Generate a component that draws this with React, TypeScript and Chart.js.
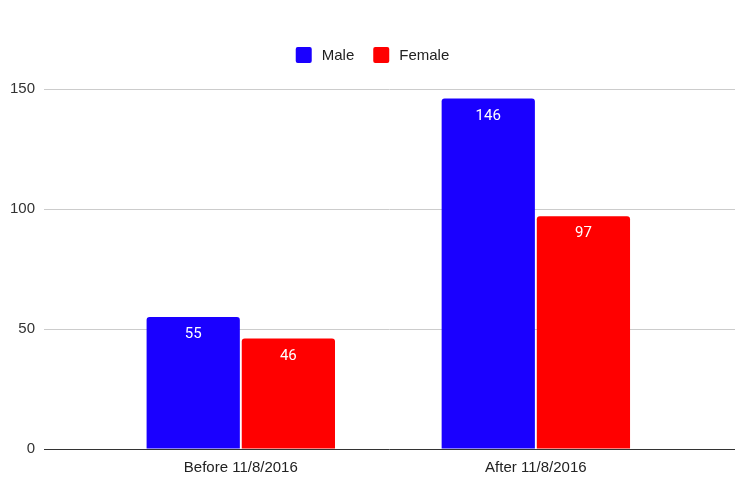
import React, { useEffect, useRef } from "react";
import { Chart, registerables } from "chart.js";

Chart.register(...registerables);

const categories = ["Before 11/8/2016", "After 11/8/2016"];
const maleValues = [55, 146];
const femaleValues = [46, 97];
const seriesNames = ["Male", "Female"];
const seriesColors = ["#1a00ff", "#ff0000"];
const yTicks = [0, 50, 100, 150];

const FONT = "'Liberation Sans', Arial, sans-serif";
const LABEL_FONT = "Roboto, 'Liberation Sans', Arial, sans-serif";

const legendPlugin = {
  id: "customLegend",
  afterDraw(chart: any) {
    const ctx = chart.ctx;
    ctx.save();
    ctx.font = `15px ${FONT}`;
    const box = 16;
    const gapText = 10;
    const gapItem = 19;
    const items = chart.data.datasets.map((d: any) => ({
      label: d.label,
      color: d.backgroundColor,
      w: ctx.measureText(d.label).width,
    }));
    const total = items.reduce((s: number, it: any) => s + box + gapText + it.w, 0) + gapItem * (items.length - 1);
    let x = 372.5 - total / 2;
    const cy = 55;
    items.forEach((it: any) => {
      ctx.fillStyle = it.color;
      ctx.beginPath();
      (ctx as any).roundRect(x, cy - box / 2, box, box, 2);
      ctx.fill();
      ctx.fillStyle = "#222222";
      ctx.textBaseline = "middle";
      ctx.textAlign = "left";
      ctx.fillText(it.label, x + box + gapText, cy + 1);
      x += box + gapText + it.w + gapItem;
    });
    ctx.restore();
  },
};

const valueLabelPlugin = {
  id: "valueLabels",
  afterDatasetsDraw(chart: any) {
    const ctx = chart.ctx;
    ctx.save();
    ctx.font = `15px ${LABEL_FONT}`;
    ctx.fillStyle = "#ffffff";
    ctx.textAlign = "center";
    ctx.textBaseline = "middle";
    chart.data.datasets.forEach((ds: any, di: number) => {
      const meta = chart.getDatasetMeta(di);
      meta.data.forEach((bar: any, i: number) => {
        ctx.fillText(String(ds.data[i]), bar.x, bar.y + 17.5);
      });
    });
    ctx.restore();
  },
};

export default function App() {
  const ref = useRef<HTMLCanvasElement | null>(null);
  useEffect(() => {
    document.body.style.margin = "0";
    const canvas = ref.current!;
    const chart = new Chart(canvas, {
      type: "bar",
      data: {
        labels: categories,
        datasets: [
          { label: seriesNames[0], data: maleValues, backgroundColor: seriesColors[0] },
          { label: seriesNames[1], data: femaleValues, backgroundColor: seriesColors[1] },
        ],
      },
      options: {
        animation: false,
        responsive: false,
        maintainAspectRatio: false,
        layout: { padding: { top: 89, right: 15, bottom: 0, left: 0 } },
        datasets: {
          bar: {
            categoryPercentage: 0.645,
            barPercentage: 0.98,
            borderRadius: 3,
          },
        } as any,
        plugins: {
          legend: { display: false },
          tooltip: { enabled: false },
        },
        scales: {
          x: {
            offset: true,
            grid: { display: false },
            border: { display: false },
            ticks: {
              color: "#222222",
              font: { family: FONT, size: 15 },
              padding: 2,
              maxRotation: 0,
            },
            afterFit(scale: any) {
              scale.height = 28;
            },
            afterBuildTicks(scale: any) {
              const extra = 0.171;
              scale._startValue = -0.5 - extra + 0.004;
              scale._valueRange = categories.length + 2 * extra;
            },
          } as any,
          y: {
            min: 0,
            max: 150,
            afterBuildTicks(scale: any) {
              scale.ticks = yTicks.map((v) => ({ value: v }));
            },
            grid: {
              color: (c: any) => (c.tick && c.tick.value === 0 ? "#333333" : "#cccccc"),
              lineWidth: 1,
              drawTicks: false,
            },
            border: { display: false },
            ticks: {
              color: "#333333",
              font: { family: FONT, size: 15 },
              padding: 9,
            },
            afterFit(scale: any) {
              scale.width = 44;
            },
          } as any,
        },
      },
      plugins: [legendPlugin, valueLabelPlugin],
    });
    return () => chart.destroy();
  }, []);
  return (
    <div style={{ width: 750, height: 477, background: "#ffffff" }}>
      <canvas ref={ref} width={750} height={477} style={{ display: "block" }} />
    </div>
  );
}
